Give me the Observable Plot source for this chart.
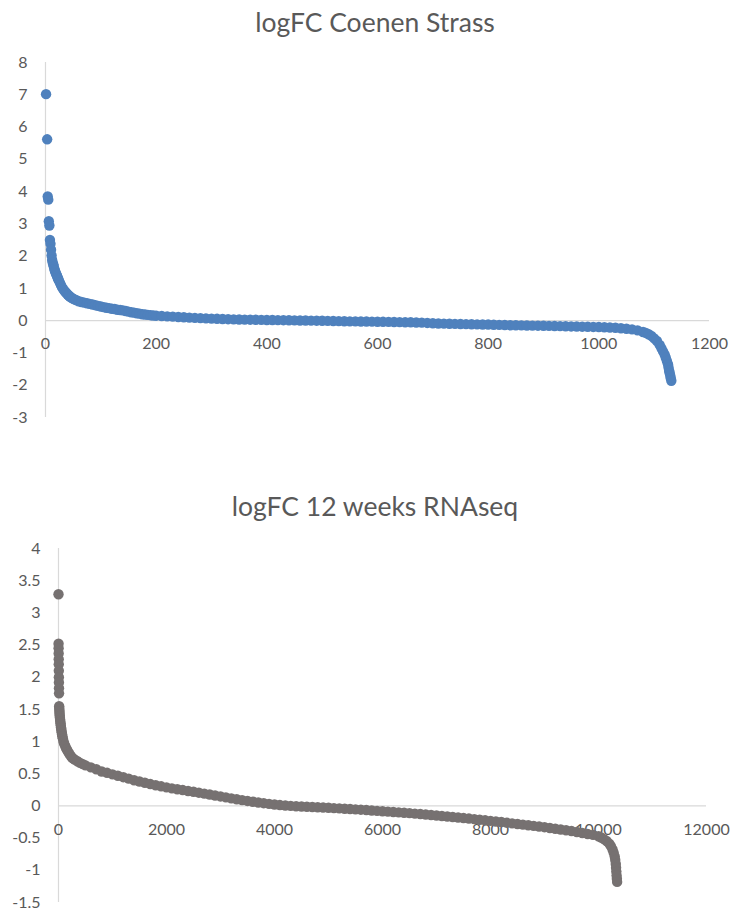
<!DOCTYPE html>
<html>
<head>
<meta charset="utf-8">
<script src="https://cdn.jsdelivr.net/npm/d3@7"></script>
<script src="https://cdn.jsdelivr.net/npm/@observablehq/plot@0.6"></script>
<style>
  html, body { margin: 0; padding: 0; background: #ffffff; }
  body { width: 730px; height: 911px; overflow: hidden; font-family: Lato, "Open Sans", sans-serif; }
  .title { height: 45px; line-height: 44px; text-align: center; padding-left: 20px; box-sizing: border-box;
           font-size: 26.5px; color: #595959; white-space: nowrap; }
  .gap { height: 24px; }
  svg { display: block; }
</style>
</head>
<body>
<div class="title" id="t1"></div>
<div id="c1"></div>
<div class="gap"></div>
<div class="title" id="t2"></div>
<div id="c2"></div>
<script>
// ---------- Chart 1: logFC Coenen Strass ----------
const title1 = "logFC Coenen Strass";
const xTicks1 = [0, 200, 400, 600, 800, 1000, 1200];
const yTicks1 = [8, 7, 6, 5, 4, 3, 2, 1, 0, -1, -2, -3];
const coenenRank = [
  1, 3, 4, 5, 6, 7,
  8, 9, 10, 11, 12, 13, 14, 15, 16, 17, 18, 19, 20, 21, 22, 23, 24,
  26, 28, 30, 32, 34, 36, 38, 40, 42, 44, 46, 48,
  51, 55, 60, 65, 70, 75, 80, 85, 90, 95,
  100, 105, 110, 115, 120, 125, 130, 135, 140, 145,
  150, 155, 160, 165, 170, 175, 180, 185, 190, 195,
  200, 210, 220, 230, 240, 250, 260, 270, 280, 290,
  300, 310, 320, 330, 340, 350, 360, 370, 380, 390,
  400, 410, 420, 430, 440, 450, 460, 470, 480, 490,
  500, 510, 520, 530, 540, 550, 560, 570, 580, 590,
  600, 610, 620, 630, 640, 650, 660, 670, 680, 690,
  700, 710, 720, 730, 740, 750, 760, 770, 780, 790,
  800, 810, 820, 830, 840, 850, 860, 870, 880, 890,
  900, 910, 920, 930, 940, 950, 960, 970, 980, 990,
  1000, 1010, 1020, 1030, 1040, 1050,
  1060, 1070, 1080, 1085, 1090, 1095, 1100, 1105, 1110, 1113,
  1116, 1119, 1121, 1123, 1125, 1126, 1127, 1128, 1129, 1130, 1131
];
const coenenLogFC = [
  7.02, 5.62, 3.85, 3.75, 3.08, 2.95,
  2.5, 2.38, 2.2, 2.02, 1.88, 1.8, 1.74, 1.68, 1.6, 1.55, 1.5, 1.46, 1.42, 1.38, 1.33, 1.29, 1.25,
  1.18, 1.1, 1.03, 0.98, 0.93, 0.89, 0.85, 0.81, 0.78, 0.75, 0.72, 0.7,
  0.67, 0.64, 0.6, 0.58, 0.56, 0.54, 0.52, 0.5, 0.48, 0.46,
  0.44, 0.42, 0.4, 0.39, 0.37, 0.36, 0.34, 0.33, 0.32, 0.3,
  0.28, 0.26, 0.25, 0.23, 0.22, 0.2, 0.19, 0.18, 0.17, 0.16,
  0.155, 0.145, 0.135, 0.125, 0.115, 0.105, 0.095, 0.088, 0.08, 0.072,
  0.065, 0.058, 0.052, 0.046, 0.04, 0.037, 0.034, 0.031, 0.028, 0.025,
  0.022, 0.02, 0.017, 0.015, 0.012, 0.01, 0.007, 0.005, 0.002, 0.0,
  -0.003, -0.006, -0.01, -0.014, -0.017, -0.02, -0.022, -0.025, -0.027, -0.03,
  -0.032, -0.035, -0.038, -0.041, -0.044, -0.047, -0.05, -0.055, -0.06, -0.07,
  -0.08, -0.088, -0.092, -0.096, -0.1, -0.104, -0.108, -0.112, -0.115, -0.118,
  -0.12, -0.125, -0.13, -0.135, -0.14, -0.143, -0.146, -0.149, -0.152, -0.155,
  -0.158, -0.162, -0.166, -0.17, -0.174, -0.178, -0.182, -0.186, -0.19, -0.194,
  -0.198, -0.205, -0.212, -0.22, -0.235, -0.25,
  -0.27, -0.3, -0.35, -0.38, -0.42, -0.47, -0.55, -0.63, -0.75, -0.85,
  -0.95, -1.05, -1.15, -1.25, -1.35, -1.45, -1.55, -1.62, -1.7, -1.78, -1.86
];

// ---------- Chart 2: logFC 12 weeks RNAseq ----------
const title2 = "logFC 12 weeks RNAseq";
const xTicks2 = [0, 2000, 4000, 6000, 8000, 10000, 12000];
const yTicks2 = [4, 3.5, 3, 2.5, 2, 1.5, 1, 0.5, 0, -0.5, -1, -1.5];
const rnaseqRank = [
  0, 1, 2, 3, 4, 5, 6, 7, 8, 9, 10,
  12, 14, 16, 18, 20, 23, 26, 30, 34, 38, 42, 46, 50, 55, 60, 66, 72, 80, 90,
  100, 115, 130, 145, 160, 180, 200, 225, 250, 275, 300, 350, 400, 450,
  500, 600, 700, 800, 900, 1000, 1100, 1200, 1300, 1400,
  1500, 1600, 1700, 1800, 1900, 2000, 2100, 2200, 2300, 2400,
  2500, 2600, 2700, 2800, 2900, 3000, 3100, 3200, 3300, 3400,
  3500, 3600, 3700, 3800, 3900, 4000, 4100, 4200, 4300, 4400,
  4500, 4600, 4700, 4800, 4900, 5000, 5100, 5200, 5300, 5400,
  5500, 5600, 5700, 5800, 5900, 6000, 6100, 6200, 6300, 6400,
  6500, 6600, 6700, 6800, 6900, 7000, 7100, 7200, 7300, 7400,
  7500, 7600, 7700, 7800, 7900, 8000, 8100, 8200, 8300, 8400,
  8500, 8600, 8700, 8800, 8900, 9000, 9100, 9200, 9300, 9400,
  9500, 9600, 9700, 9800, 9900, 10000,
  10050, 10100, 10150, 10200, 10230, 10260, 10280, 10300, 10310, 10320,
  10325, 10330, 10335, 10340, 10345
];
const rnaseqLogFC = [
  3.29, 2.52, 2.45, 2.37, 2.28, 2.2, 2.1, 2.0, 1.92, 1.83, 1.75,
  1.55, 1.52, 1.49, 1.46, 1.43, 1.4, 1.37, 1.34, 1.31, 1.28, 1.25, 1.22, 1.2, 1.17, 1.14, 1.11, 1.08, 1.05, 1.01,
  0.98, 0.95, 0.92, 0.89, 0.87, 0.84, 0.81, 0.78, 0.75, 0.735, 0.72, 0.695, 0.67, 0.65,
  0.63, 0.6, 0.57, 0.535, 0.515, 0.49, 0.47, 0.447, 0.425, 0.4,
  0.38, 0.36, 0.34, 0.322, 0.305, 0.288, 0.273, 0.26, 0.247, 0.233,
  0.22, 0.206, 0.192, 0.178, 0.163, 0.148, 0.133, 0.118, 0.104, 0.09,
  0.078, 0.066, 0.054, 0.043, 0.032, 0.022, 0.014, 0.007, 0.001, -0.004,
  -0.008, -0.012, -0.016, -0.02, -0.024, -0.028, -0.033, -0.038, -0.043, -0.048,
  -0.053, -0.058, -0.064, -0.07, -0.076, -0.082, -0.088, -0.094, -0.1, -0.106,
  -0.112, -0.119, -0.126, -0.133, -0.14, -0.148, -0.156, -0.164, -0.172, -0.18,
  -0.188, -0.196, -0.205, -0.214, -0.223, -0.232, -0.241, -0.25, -0.26, -0.27,
  -0.28, -0.29, -0.3, -0.31, -0.32, -0.33, -0.342, -0.354, -0.366, -0.378,
  -0.39, -0.405, -0.42, -0.435, -0.45, -0.47,
  -0.49, -0.515, -0.545, -0.585, -0.625, -0.675, -0.725, -0.785, -0.84, -0.9,
  -0.96, -1.02, -1.08, -1.13, -1.18
];

const axisColor = "#d9d9d9";
const labelColor = "#595959";
const fontFamily = "Lato, 'Open Sans', sans-serif";

function scatter({rank, logFC, xTicks, yTicks, xDomain, yDomain, color, height,
                  marginLeft, marginRight, marginTop, marginBottom, xLabelDy}) {
  const data = rank.map((r, i) => ({rank: r, logFC: logFC[i]}));
  return Plot.plot({
    width: 730,
    height,
    marginLeft, marginRight, marginTop, marginBottom,
    style: {fontFamily, background: "#ffffff", overflow: "visible"},
    x: {domain: xDomain, axis: null},
    y: {domain: yDomain, axis: null},
    marks: [
      Plot.ruleX([0], {stroke: axisColor, strokeWidth: 1.2}),
      Plot.ruleY([0], {stroke: axisColor, strokeWidth: 1.2}),
      Plot.text(yTicks, {x: xDomain[0], y: d => d, dx: -18, textAnchor: "end",
        text: d => String(d), fill: labelColor, fontSize: 16, fontFamily}),
      Plot.text(xTicks, {x: d => d, y: 0, dy: xLabelDy, textAnchor: "middle",
        text: d => String(d), fill: labelColor, fontSize: 16, fontFamily}),
      Plot.dot(data, {x: "rank", y: "logFC", r: 5.2, fill: color, stroke: "none"})
    ]
  });
}

document.getElementById("t1").textContent = title1;
document.getElementById("t2").textContent = title2;

document.getElementById("c1").appendChild(scatter({
  rank: coenenRank, logFC: coenenLogFC, xTicks: xTicks1, yTicks: yTicks1,
  xDomain: [0, 1200], yDomain: [-3, 8], color: "#4F81BD", height: 415,
  marginLeft: 45, marginRight: 21, marginTop: 17, marginBottom: 43, xLabelDy: 23
}));

document.getElementById("c2").appendChild(scatter({
  rank: rnaseqRank, logFC: rnaseqLogFC, xTicks: xTicks2, yTicks: yTicks2,
  xDomain: [0, 12000], yDomain: [-1.5, 4], color: "#767171", height: 382,
  marginLeft: 58, marginRight: 24, marginTop: 19, marginBottom: 9, xLabelDy: 24
}));
</script>
</body>
</html>
